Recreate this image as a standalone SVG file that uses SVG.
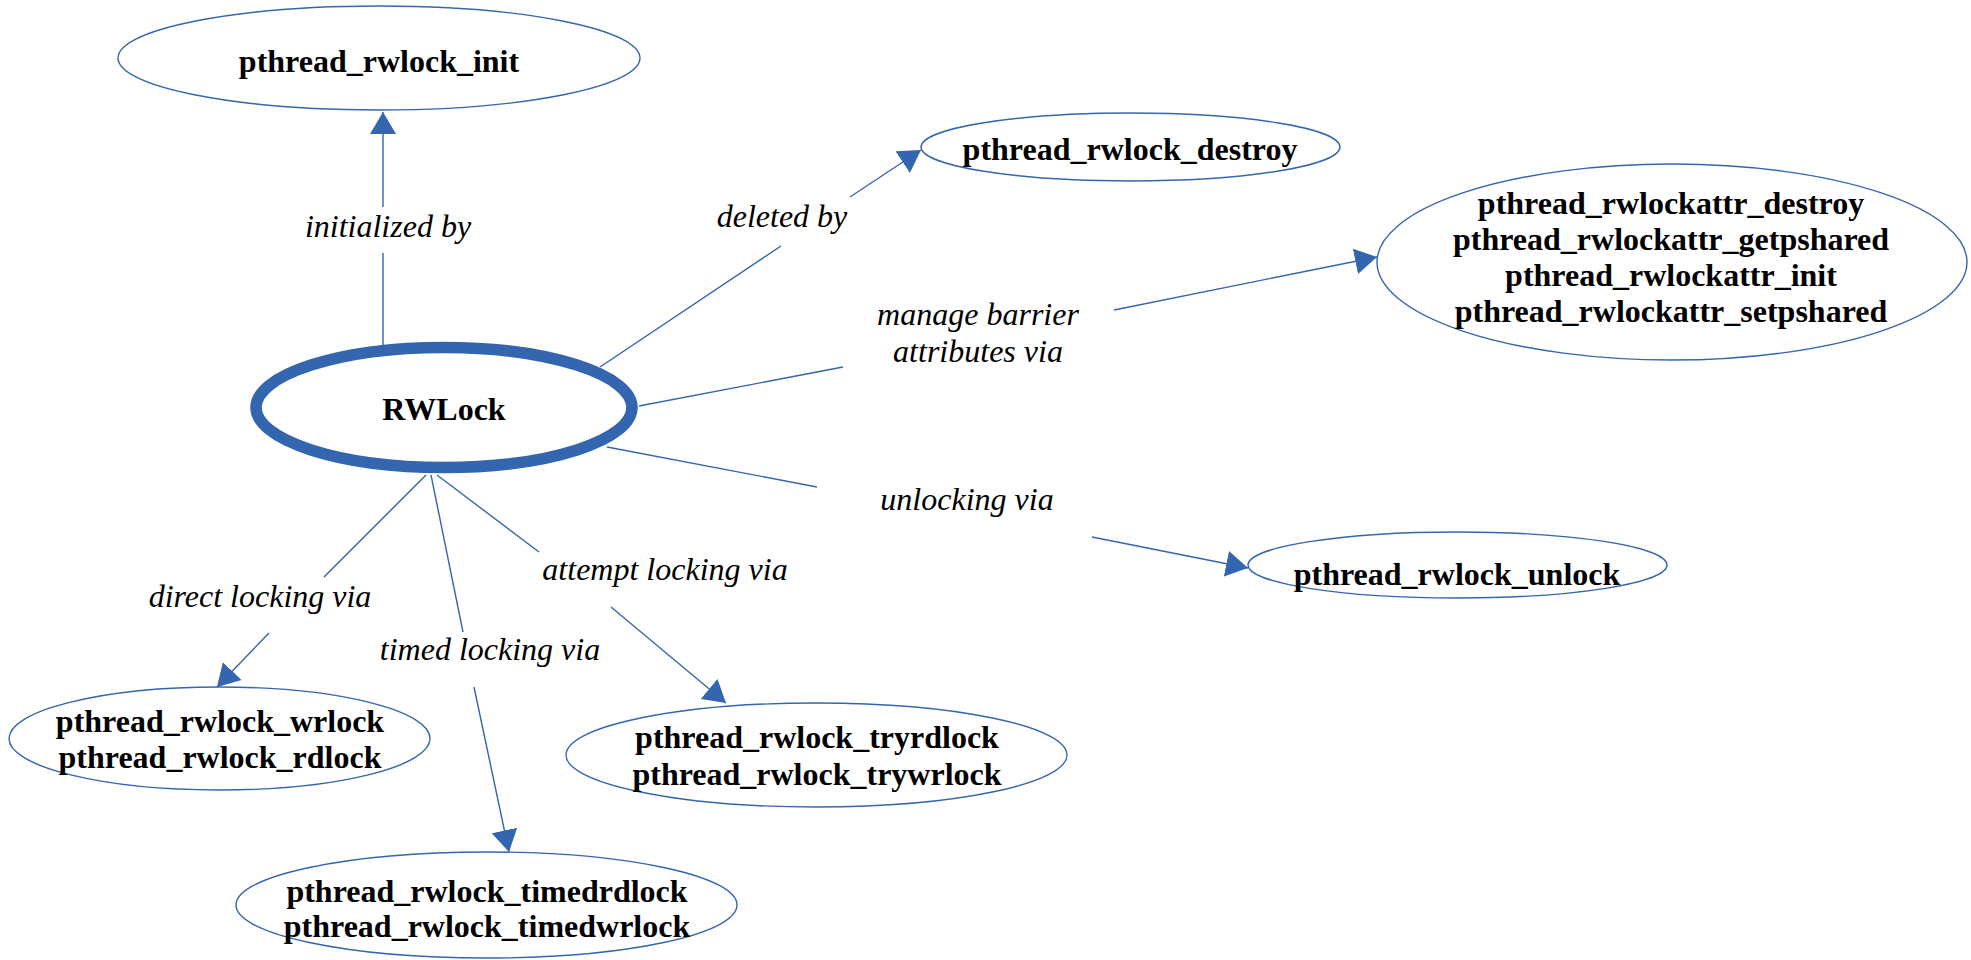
<svg xmlns="http://www.w3.org/2000/svg" width="1971" height="960" viewBox="0 0 1971 960">
<style>
  .node { fill: #ffffff; stroke: #3465af; stroke-width: 1.4; }
  .main { fill: #ffffff; stroke: #3465af; stroke-width: 11.5; }
  .ntext { font-family: "Liberation Serif", "Times New Roman", serif; font-weight: bold; font-size: 32px; fill: #000000; text-anchor: middle; }
  .etext { font-family: "Liberation Serif", "Times New Roman", serif; font-style: italic; font-size: 32px; fill: #000000; text-anchor: middle; }
  .edge { fill: none; stroke: #3465af; stroke-width: 1.4; }
</style>
<defs>
  <marker id="arrow" markerUnits="userSpaceOnUse" markerWidth="24" markerHeight="28" refX="22" refY="13" orient="auto" viewBox="0 0 24 28">
    <path d="M0,0 L22,13 L0,26 z" fill="#3465af"/>
  </marker>
</defs>
<rect width="1971" height="960" fill="#ffffff"/>

<g id="connectors">
  <g id="e-init">
    <line class="edge" x1="383" y1="347" x2="383" y2="253"/>
    <line class="edge" x1="383" y1="207" x2="383" y2="112" marker-end="url(#arrow)"/>
    <text class="etext" x="388" y="237">initialized by</text>
  </g>
  <g id="e-destroy">
    <line class="edge" x1="600" y1="367" x2="781" y2="246"/>
    <line class="edge" x1="850" y1="197" x2="921" y2="150" marker-end="url(#arrow)"/>
    <text class="etext" x="782" y="227">deleted by</text>
  </g>
  <g id="e-attr">
    <line class="edge" x1="639" y1="406" x2="843" y2="367"/>
    <line class="edge" x1="1114" y1="310" x2="1377" y2="257" marker-end="url(#arrow)"/>
    <text class="etext" x="978" y="325">manage barrier</text>
    <text class="etext" x="978" y="362">attributes via</text>
  </g>
  <g id="e-unlock">
    <line class="edge" x1="607" y1="447" x2="817" y2="487"/>
    <line class="edge" x1="1092" y1="537" x2="1248" y2="568" marker-end="url(#arrow)"/>
    <text class="etext" x="967" y="510">unlocking via</text>
  </g>
  <g id="e-try">
    <line class="edge" x1="437" y1="475" x2="539" y2="552"/>
    <line class="edge" x1="611" y1="607" x2="726" y2="703" marker-end="url(#arrow)"/>
    <text class="etext" x="665" y="580">attempt locking via</text>
  </g>
  <g id="e-timed">
    <line class="edge" x1="431" y1="475" x2="463" y2="632"/>
    <line class="edge" x1="474" y1="687" x2="509" y2="852" marker-end="url(#arrow)"/>
    <text class="etext" x="490" y="660">timed locking via</text>
  </g>
  <g id="e-direct">
    <line class="edge" x1="426" y1="475" x2="324" y2="577"/>
    <line class="edge" x1="269" y1="633" x2="217" y2="687" marker-end="url(#arrow)"/>
    <text class="etext" x="260" y="607">direct locking via</text>
  </g>
</g>

<g id="n-init">
  <ellipse class="node" cx="379" cy="58" rx="261" ry="52"/>
  <text class="ntext" x="379" y="72">pthread_rwlock_init</text>
</g>
<g id="n-rwlock">
  <ellipse class="main" cx="444" cy="407.5" rx="188" ry="60"/>
  <text class="ntext" x="444" y="420">RWLock</text>
</g>
<g id="n-destroy">
  <ellipse class="node" cx="1130.5" cy="147" rx="209.5" ry="34"/>
  <text class="ntext" x="1130" y="160">pthread_rwlock_destroy</text>
</g>
<g id="n-attr">
  <ellipse class="node" cx="1672" cy="262" rx="295" ry="98"/>
  <text class="ntext" x="1671" y="214">pthread_rwlockattr_destroy</text>
  <text class="ntext" x="1671" y="250">pthread_rwlockattr_getpshared</text>
  <text class="ntext" x="1671" y="286">pthread_rwlockattr_init</text>
  <text class="ntext" x="1671" y="322">pthread_rwlockattr_setpshared</text>
</g>
<g id="n-unlock">
  <ellipse class="node" cx="1457.5" cy="565" rx="209.5" ry="33"/>
  <text class="ntext" x="1457" y="585">pthread_rwlock_unlock</text>
</g>
<g id="n-wrlock">
  <ellipse class="node" cx="219.5" cy="738.5" rx="210.5" ry="51.5"/>
  <text class="ntext" x="220" y="732">pthread_rwlock_wrlock</text>
  <text class="ntext" x="220" y="768">pthread_rwlock_rdlock</text>
</g>
<g id="n-try">
  <ellipse class="node" cx="816.5" cy="755" rx="250.5" ry="52"/>
  <text class="ntext" x="817" y="748">pthread_rwlock_tryrdlock</text>
  <text class="ntext" x="817" y="785">pthread_rwlock_trywrlock</text>
</g>
<g id="n-timed">
  <ellipse class="node" cx="486.5" cy="905" rx="250.5" ry="53"/>
  <text class="ntext" x="487" y="902">pthread_rwlock_timedrdlock</text>
  <text class="ntext" x="487" y="937">pthread_rwlock_timedwrlock</text>
</g>
</svg>
